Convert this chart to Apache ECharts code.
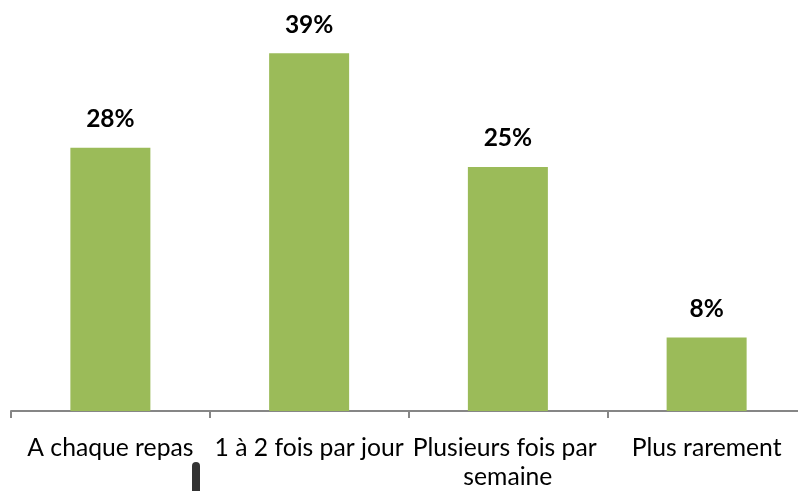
<!DOCTYPE html>
<html>
<head>
<meta charset="utf-8">
<script src="https://cdn.jsdelivr.net/npm/echarts@6/dist/echarts.min.js"></script>
<style>
  html, body { margin: 0; padding: 0; background: #fff; }
  #main { width: 798px; height: 491px; }
</style>
</head>
<body>
<div id="main"></div>
<script>
var categories = ['A chaque repas', '1 à 2 fois par jour', 'Plusieurs fois par semaine', 'Plus rarement'];
// bar heights as measured on the picture (the labels are the printed percentages)
var values = [28.7, 39, 26.6, 8.0];
var valueLabels = ['28%', '39%', '25%', '8%'];

var dom = document.getElementById('main');
var myChart = echarts.init(dom);
var option = {
    animation: false,
    grid: { left: 11, width: 795, top: 44, bottom: 80, outerBoundsMode: 'none', containLabel: false },
    xAxis: {
        type: 'category',
        data: categories,
        axisLine: { lineStyle: { color: '#868686', width: 2 } },
        axisTick: { show: true, length: 7, lineStyle: { color: '#868686', width: 2 } },
        axisLabel: {
            interval: 0,
            color: '#000',
            fontFamily: 'Lato',
            fontSize: 24.7,
            margin: 23,
            lineHeight: 29,
            width: 215,
            overflow: 'break'
        }
    },
    yAxis: {
        type: 'value',
        min: 0,
        max: 40,
        show: false,
        splitLine: { show: false }
    },
    series: [{
        type: 'bar',
        data: values,
        barWidth: 80,
        itemStyle: { color: '#9BBB59' },
        label: {
            show: true,
            position: 'top',
            distance: 16,
            color: '#000',
            fontFamily: 'Lato',
            fontWeight: 'bold',
            fontSize: 24.5,
            formatter: function (p) { return valueLabels[p.dataIndex]; }
        }
    }],
    graphic: [{
        type: 'rect',
        left: 192,
        top: 462,
        shape: { width: 8, height: 30, r: [4, 4, 0, 0] },
        style: { fill: '#333' }
    }]
};
myChart.setOption(option, true);
</script>
</body>
</html>
